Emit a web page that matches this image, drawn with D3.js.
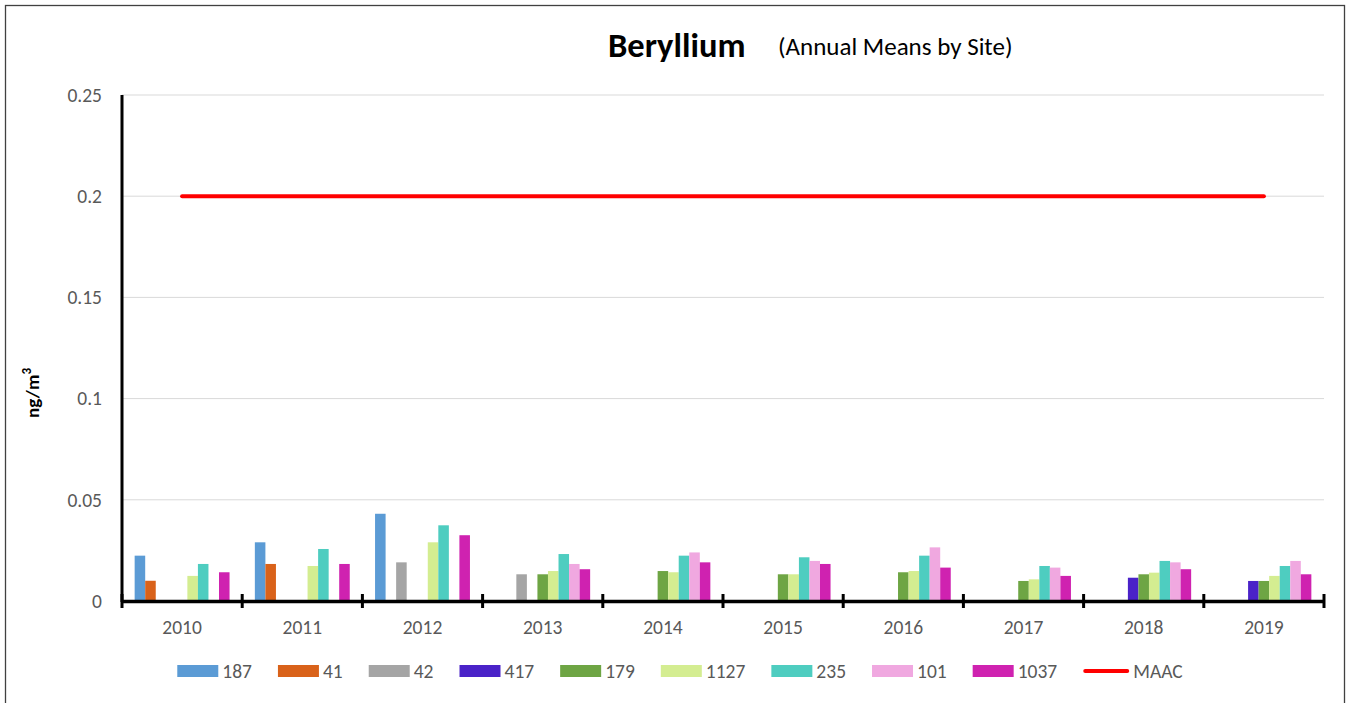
<!DOCTYPE html>
<html><head><meta charset="utf-8">
<script src="https://cdn.jsdelivr.net/npm/d3@7"></script>
<style>
body{margin:0;background:#fff;}
text{font-family:Carlito, Calibri, Lato, "Open Sans", sans-serif;}
</style></head>
<body><svg id="c" width="1351" height="703"></svg>
<script>
const years = ["2010","2011","2012","2013","2014","2015","2016","2017","2018","2019"];
const sites = ["187","41","42","417","179","1127","235","101","1037"];
const siteColors = ["#5B9BD5","#D9621A","#A5A5A5","#4A22C8","#6EA544","#D4ED91","#4ECDC0","#F0A8E0","#CF22B0"];
const s187  = [0.0224,0.0290,0.0431,null,null,null,null,null,null,null];
const s41   = [0.0100,0.0183,null,null,null,null,null,null,null,null];
const s42   = [null,null,0.0191,0.0132,null,null,null,null,null,null];
const s417  = [null,null,null,null,null,null,null,null,0.0115,0.0099];
const s179  = [null,null,null,0.0132,0.0148,0.0132,0.0142,0.0099,0.0132,0.0099];
const s1127 = [0.0124,0.0173,0.0290,0.0148,0.0142,0.0132,0.0148,0.0107,0.0140,0.0124];
const s235  = [0.0183,0.0257,0.0374,0.0232,0.0224,0.0216,0.0224,0.0173,0.0198,0.0173];
const s101  = [null,null,null,0.0183,0.0240,0.0198,0.0265,0.0165,0.0191,0.0198];
const s1037 = [0.0142,0.0183,0.0325,0.0157,0.0191,0.0183,0.0165,0.0124,0.0157,0.0132];
const maac  = [0.2,0.2,0.2,0.2,0.2,0.2,0.2,0.2,0.2,0.2];
const yTicks = [0,0.05,0.1,0.15,0.2,0.25];
const yTickLabels = ["0","0.05","0.1","0.15","0.2","0.25"];
const seriesValues = [s187,s41,s42,s417,s179,s1127,s235,s101,s1037];

const FONT = "Carlito, Calibri, Lato, sans-serif";
const AX = 19.5;
const svg = d3.select("#c");
const L=122, R=1324, T=95, B=601;
const x0 = d3.scaleBand().domain(years).range([L,R]).paddingInner(0).paddingOuter(0);
const x1 = d3.scaleBand().domain(sites).range([0,x0.bandwidth()]).paddingInner(0).paddingOuter(1.2);
const y = d3.scaleLinear().domain([0,0.25]).range([B,T]);

// border
svg.append("rect").attr("x",5.5).attr("y",5.5).attr("width",1339).attr("height",710)
  .attr("fill","none").attr("stroke","#404040").attr("stroke-width",1.3);

// gridlines
svg.append("g").selectAll("line").data(yTicks.filter(d=>d>0)).join("line")
  .attr("x1",L).attr("x2",R).attr("y1",d=>y(d)).attr("y2",d=>y(d))
  .attr("stroke","#D9D9D9").attr("stroke-width",1);

// y axis labels via axis
const yAxis = d3.axisLeft(y).tickValues(yTicks).tickSize(0).tickPadding(20)
  .tickFormat((d,i)=>yTickLabels[i]);
const gy = svg.append("g").attr("transform",`translate(${L},0)`).call(yAxis);
gy.select(".domain").remove();
gy.selectAll("text").attr("font-size",AX).attr("fill","#595959").style("font-family",FONT);

// bars
const gBars = svg.append("g");
sites.forEach((s,si)=>{
  gBars.append("g").selectAll("rect")
    .data(years.map((yr,i)=>({yr,v:seriesValues[si][i]})).filter(d=>d.v!=null))
    .join("rect")
    .attr("x",d=>x0(d.yr)+x1(s))
    .attr("width",x1.bandwidth())
    .attr("y",d=>y(d.v))
    .attr("height",d=>y(0)-y(d.v))
    .attr("fill",siteColors[si]);
});

// MAAC line
const line = d3.line().x((d,i)=>x0(years[i])+x0.bandwidth()/2).y(d=>y(d));
svg.append("path").datum(maac).attr("d",line).attr("fill","none")
  .attr("stroke","#FF0000").attr("stroke-width",4).attr("stroke-linecap","round");

// y axis line
svg.append("line").attr("x1",L).attr("x2",L).attr("y1",T).attr("y2",B+1)
  .attr("stroke","#000").attr("stroke-width",3);

// x axis
const xAxis = d3.axisBottom(x0).tickSize(0).tickPadding(19);
const gx = svg.append("g").attr("transform",`translate(0,${B})`).call(xAxis);
gx.select(".domain").attr("stroke","#000").attr("stroke-width",3.5);
gx.selectAll("text").attr("font-size",AX).attr("fill","#595959").style("font-family",FONT);
const bounds = years.map(yr=>x0(yr)).concat([R]);
svg.append("g").selectAll("line").data(bounds).join("line")
  .attr("x1",d=>d).attr("x2",d=>d).attr("y1",B-7).attr("y2",B+7)
  .attr("stroke","#000").attr("stroke-width",3);

// titles
svg.append("text").attr("x",608).attr("y",57).attr("font-size",34.5).attr("font-weight","bold")
  .attr("fill","#000").text("Beryllium");
svg.append("text").attr("x",778).attr("y",55).attr("font-size",25).attr("fill","#000")
  .text("(Annual Means by Site)");

// y axis title
const yt = svg.append("text").attr("transform","translate(39,393) rotate(-90)")
  .attr("text-anchor","middle").attr("font-size",19).attr("font-weight","bold").attr("fill","#000");
yt.append("tspan").text("ng/m");
yt.append("tspan").attr("font-size",13).attr("dy",-8).text("3");

// legend
const leg = svg.append("g");
const items = sites.map((s,i)=>({label:s,color:siteColors[i],type:"bar"}))
  .concat([{label:"MAAC",color:"#FF0000",type:"line"}]);
let cx = 0;
const GAP = 26;
items.forEach(it=>{
  const g = leg.append("g").attr("transform",`translate(${cx},0)`);
  const sw = it.type==="bar"?41:46;
  if(it.type==="bar") g.append("rect").attr("x",0).attr("y",-6).attr("width",sw).attr("height",12).attr("fill",it.color);
  else g.append("line").attr("x1",2).attr("x2",sw-2).attr("y1",0).attr("y2",0).attr("stroke",it.color).attr("stroke-width",4).attr("stroke-linecap","round");
  const t = g.append("text").attr("x",sw+4).attr("y",7).attr("font-size",AX).attr("fill","#595959").text(it.label);
  const w = t.node().getComputedTextLength();
  cx += sw+4+w+GAP;
});
const totalW = cx-GAP;
leg.attr("transform",`translate(${(178+1182)/2 - totalW/2},671)`);
</script></body></html>
